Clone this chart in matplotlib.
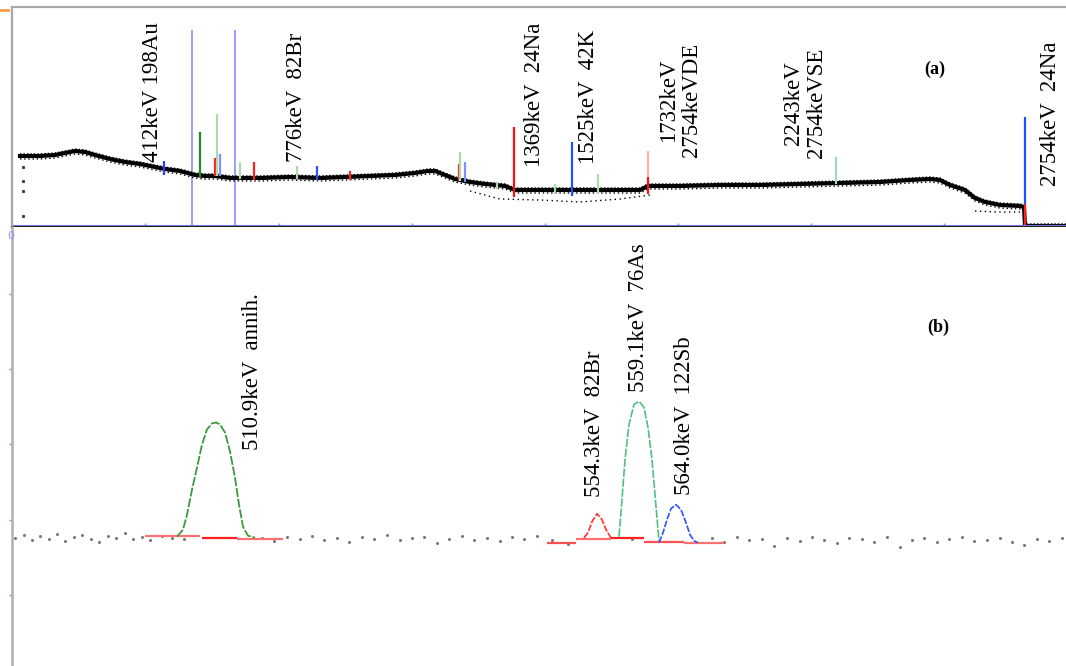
import matplotlib
matplotlib.use("Agg")
import matplotlib.pyplot as plt
from matplotlib.lines import Line2D

# ---------------- data: panel (a) full spectrum (channel, height a.u.) ----------------
band_a_x = [8, 28, 43, 53, 63, 73, 83, 98, 113, 128, 143, 153, 168, 183, 193, 203, 218, 248,
            278, 308, 333, 358, 383, 403, 416, 423, 433, 443, 458, 473, 493, 503, 518, 548,
            588, 628, 636, 668, 708, 748, 788, 828, 868, 898, 918, 928, 938, 953, 963, 973,
            988, 1008, 1012, 1013, 1054]
band_a_y = [71, 71, 72, 74, 76, 75, 72, 68, 65, 63, 60, 58, 56, 52, 51, 51, 49, 49,
            50, 49, 50, 51, 52, 54, 56, 56, 52, 48, 45, 43, 41, 37, 37, 37,
            37, 37, 41, 41, 42, 42, 43, 44, 45, 47, 48, 47, 42, 37, 29, 25,
            22, 21, 20, 1, 1]
low_a_x = [458, 488, 528, 568, 608, 638, None, 963, 985, 1008]
low_a_y = [36, 28, 27, 25, 28, 32, None, 16, 15, 15]
edge_a_x = [11, 11, 11, 11]
edge_a_y = [60, 46, 36, 11]

peak_a_x = [152, 188, 203, 205, 208, 228, 242, 285, 305, 338, 447, 448, 453, 485, 502,
            543, 560, 586, 636, 636, 824, 1013, 1013]
peak_a_top = [66, 95, 69, 113, 73, 65, 65, 61, 61, 56, 63, 75, 65, 45, 100,
              43, 85, 53, 76, 50, 70, 110, 23]
peak_a_bot = [52, 50, 51, 51, 51, 48, 47, 48, 47, 47, 46, 46, 45, 38, 30,
              33, 31, 33, 50, 33, 43, 23, 0]
peak_a_col = ["#2040ff", "#208a20", "#ff2020", "#a8dca8", "#8090ff", "#a8dca8", "#ff2020",
              "#a8dca8", "#3050ff", "#ff2020", "#ff2020", "#a8dca8", "#8090ff", "#a8dca8",
              "#ff1010", "#a8dca8", "#2050ff", "#a8dca8", "#f8b4b4", "#ff1010", "#a0d8c0",
              "#2050ff", "#ff2020"]
roi_a_x = [180, 223]
tick_a_x = [133, 267, 400, 533, 666, 799, 932]

labels_a = ["412keV 198Au", "776keV  82Br", "1369keV  24Na", "1525keV  42K",
            "1732keV\n2754keVDE", "2243keV\n2754keVSE", "2754keV  24Na"]
labels_a_x = [140, 285, 522, 576, 668, 793, 1039]
labels_a_y = [65, 65, 60, 63, 70, 69, 41]

# ---------------- data: panel (b) zoom 500-580 keV ----------------
annih_x = [165, 171, 175, 180, 185, 190, 195, 200, 204, 208, 213, 218, 223, 227, 231, 236, 243]
annih_y = [129, 136, 151, 176, 198, 221, 236, 242, 243, 241, 233, 214, 188, 161, 139, 130, 128]
br_x = [572, 576, 580, 585, 590, 594, 599]
br_y = [128, 133, 144, 152, 146, 136, 128]
as_x = [607, 610, 613, 617, 622, 627, 632, 636, 640, 643, 647]
as_y = [129, 166, 206, 241, 261, 264, 258, 238, 206, 171, 124]
sb_x = [647, 651, 655, 659, 664, 669, 674, 678, 682, 686]
sb_y = [123, 133, 146, 157, 161, 156, 143, 131, 125, 123]
base_b_x0 = [133, 190, 225, 535, 564, 599, 632, 672]
base_b_x1 = [188, 225, 271, 564, 599, 632, 672, 712]
base_b_y = [130, 128, 127, 123, 127, 128, 124, 123]
base_b_col = ["#ff7070", "#ff2020", "#ff7070", "#ff5050", "#ff7070", "#ff2020", "#ff5050", "#ff7070"]

bg_b_x = [3, 12, 20, 28, 37, 45, 53, 62, 70, 79, 87, 96, 104, 113, 121, 130, 138, 150, 160, 172,
          250, 262, 275, 288, 300, 312, 325, 337, 350, 362, 375, 388, 400, 412, 425, 437, 450,
          462, 475, 488, 500, 512, 525, 540, 556, 620, 700, 712, 725, 737, 750, 762, 775, 788,
          800, 812, 825, 837, 850, 862, 875, 888, 900, 912, 925, 937, 950, 962, 975, 988, 1000,
          1012, 1025, 1037, 1050]
bg_b_y = [128, 131, 126, 130, 127, 132, 125, 129, 131, 127, 124, 130, 128, 133, 127, 129, 126,
          130, 128, 127, 128, 125, 129, 127, 130, 126, 128, 124, 129, 127, 131, 126, 128, 129,
          123, 127, 130, 126, 128, 125, 129, 127, 130, 126, 122, 127, 128, 124, 129, 126, 127,
          120, 128, 125, 129, 126, 123, 128, 127, 124, 129, 119, 126, 128, 124, 127, 129, 125,
          126, 128, 124, 121, 127, 125, 128]
tick_b_y = [71, 146, 221, 296, 371]

labels_b = ["510.9keV  annih.", "554.3keV  82Br", "559.1keV  76As", "564.0keV  122Sb"]
labels_b_x = [241, 583, 626, 672]
labels_b_y = [216, 169, 273, 171]

# ---------------- figure ----------------
W, H = 1066, 666
fig = plt.figure(figsize=(W / 100, H / 100), dpi=100)
fig.patch.set_facecolor("white")
serif = ["Liberation Serif", "DejaVu Serif"]

ax_a = fig.add_axes([12 / W, (H - 227) / H, (W - 12) / W, 220 / H])
ax_b = fig.add_axes([12 / W, 0, (W - 12) / W, (H - 227) / H])

# panel (a)
ax_a.set_xlim(0, 1054)
ax_a.set_ylim(0, 220)
ax_a.vlines(roi_a_x, 1, 197, colors="#8c8cff", lw=1.2)
ax_a.plot(band_a_x, band_a_y, color="black", lw=3.0, solid_joinstyle="round")
ax_a.plot(band_a_x, [v + 2 for v in band_a_y], color="black", lw=1.0, ls=(0, (1, 1.5)))
ax_a.plot(band_a_x, [v - 3 for v in band_a_y], color="black", lw=1.0, ls=(0, (1, 2)))
ax_a.plot(low_a_x, low_a_y, color="black", lw=1.0, ls=(0, (1, 2.5)))
ax_a.plot(edge_a_x, edge_a_y, ls="none", marker="s", ms=1.2, color="#404040")
ax_a.vlines(peak_a_x, peak_a_bot, peak_a_top, colors=peak_a_col, lw=1.6)
ax_a.axhline(1.5, color="#8080ff", lw=1.5)
for lab, x, y in zip(labels_a, labels_a_x, labels_a_y):
    ax_a.text(x, y, lab, rotation=90, ha="center", va="bottom", family=serif,
              fontsize=16.5, color="black", linespacing=1.15, clip_on=False)
ax_a.text(923, 158, "(a)", ha="center", va="center", family=serif, fontsize=13,
          fontweight="bold", color="black")
ax_a.set_xticks(tick_a_x)
ax_a.set_xticklabels([])
ax_a.tick_params(axis="x", direction="in", length=3, color="#8080ff", width=1)
ax_a.set_yticks([])
for s in ["left", "top"]:
    ax_a.spines[s].set_color("#a8a8a8")
    ax_a.spines[s].set_linewidth(1.6)
ax_a.spines["right"].set_visible(False)
ax_a.spines["bottom"].set_color("#202020")
ax_a.spines["bottom"].set_linewidth(1.6)

# panel (b)
ax_b.set_xlim(0, 1054)
ax_b.set_ylim(0, 438)
ax_b.plot(bg_b_x, bg_b_y, ls="none", marker="s", ms=1.0, color="#707070")
ax_b.hlines(base_b_y, base_b_x0, base_b_x1, colors=base_b_col, lw=1.6)
ax_b.plot(annih_x, annih_y, color="#3a9a3a", lw=1.3, ls=(0, (5, 1)))
ax_b.plot(br_x, br_y, color="#ff3030", lw=1.2, ls=(0, (4, 1)))
ax_b.plot(as_x, as_y, color="#50c080", lw=1.2, ls=(0, (5, 1)))
ax_b.plot(sb_x, sb_y, color="#3050ff", lw=1.2, ls=(0, (4, 1)))
for lab, x, y in zip(labels_b, labels_b_x, labels_b_y):
    ax_b.text(x, y, lab, rotation=90, ha="center", va="bottom", family=serif,
              fontsize=16.5, color="black", clip_on=False)
ax_b.text(926, 338, "(b)", ha="center", va="center", family=serif, fontsize=13,
          fontweight="bold", color="black")
ax_b.set_xticks([])
ax_b.set_yticks(tick_b_y)
ax_b.set_yticklabels([])
ax_b.tick_params(axis="y", direction="out", length=2, color="#9090ff", width=1)
for s in ["top", "right", "bottom"]:
    ax_b.spines[s].set_visible(False)
ax_b.spines["left"].set_color("#b0b0b0")
ax_b.spines["left"].set_linewidth(1.8)

# small decorations of the original screenshot
fig.text(11 / W, (H - 236) / H, "0", color="#9090ff", fontsize=8, ha="center", va="center")
fig.add_artist(Line2D([0, 8 / W], [(H - 10) / H, (H - 10) / H], color="#f0a040", lw=2))

fig.savefig("out.png", dpi=100, facecolor="white")
